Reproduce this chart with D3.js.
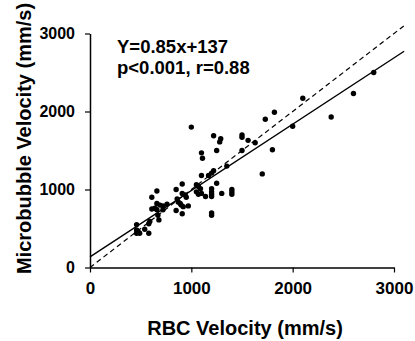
<!DOCTYPE html>
<html>
<head>
<meta charset="utf-8">
<script src="https://cdn.jsdelivr.net/npm/d3@7"></script>
<style>
  body { margin: 0; background: #fff; }
  svg { display: block; font-family: "Liberation Sans", Arial, sans-serif; font-weight: bold; }
</style>
</head>
<body>
<div id="chart"></div>
<script>
// RBC velocity (x) and microbubble velocity (y), mm/s
const rbcVelocity = [
  2800, 2600, 2100, 2380, 2000, 1820, 1730, 1800, 1700, 1630,
  1560, 1500, 1500, 1500, 1350, 1290, 1280, 1220, 1250, 1250,
  1220, 1200, 1170, 1100, 1100, 1110, 1000, 1400, 1400, 1400,
  1300, 1200, 1200, 1200, 1200, 1200, 1200, 1140, 1050, 1070,
  1090, 1050, 1070, 1100, 910, 850, 910, 940, 950, 860,
  870, 890, 900, 920, 970, 850, 910, 660, 610, 660,
  690, 720, 760, 610, 640, 660, 720, 670, 680, 590,
  580, 540, 580, 460, 460, 480, 490, 460
];
const mbVelocity = [
  2500, 2230, 2170, 1930, 1810, 1990, 1900, 1510, 1200, 1600,
  1630, 1700, 1670, 1500, 1300, 1650, 1610, 1690, 1500, 1080,
  1240, 1210, 1180, 1180, 1470, 1400, 1800, 1000, 970, 940,
  950, 1010, 970, 940, 910, 700, 670, 910, 1060, 1040,
  1010, 970, 940, 950, 1070, 1000, 950, 930, 900, 880,
  840, 820, 800, 780, 790, 730, 690, 980, 900, 820,
  800, 790, 810, 750, 760, 740, 740, 670, 610, 590,
  560, 490, 440, 550, 480, 450, 440, 440
];
const xTicks = [0, 1000, 2000, 3000];
const yTicks = [0, 1000, 2000, 3000];
const slope = 0.85, intercept = 137;
const lineRange = [0, 3100];
const statsText = ["Y=0.85x+137", "p<0.001, r=0.88"];

const W = 415, H = 341;
const margin = { top: 33.5, right: 21, bottom: 73.5, left: 90 };

const svg = d3.select("#chart").append("svg")
  .attr("width", W).attr("height", H);

const x = d3.scaleLinear().domain([0, 3000]).range([margin.left, W - margin.right]);
const y = d3.scaleLinear().domain([0, 3000]).range([H - margin.bottom, margin.top]);

// axes
const xAxis = svg.append("g")
  .attr("transform", `translate(0,${y(0)})`)
  .call(d3.axisBottom(x).tickValues(xTicks).tickFormat(d3.format("d"))
    .tickSize(5).tickSizeOuter(0).tickPadding(9));
const yAxis = svg.append("g")
  .attr("transform", `translate(${x(0)},0)`)
  .call(d3.axisLeft(y).tickValues(yTicks).tickFormat(d3.format("d"))
    .tickSize(5).tickSizeOuter(0).tickPadding(10));

[xAxis, yAxis].forEach(g => {
  g.select(".domain").attr("stroke", "#000").attr("stroke-width", 1.5);
  g.selectAll(".tick line").attr("stroke", "#000").attr("stroke-width", 1.2);
  g.selectAll(".tick text")
    .attr("fill", "#000")
    .style("font-family", "'Liberation Sans', Arial, sans-serif")
    .style("font-weight", "bold");
});
xAxis.selectAll(".tick text").style("font-size", "17px");
yAxis.selectAll(".tick text").style("font-size", "16px");

// identity line (dashed) and regression line (solid)
const line = d3.line().x(d => x(d[0])).y(d => y(d[1]));
svg.append("path")
  .attr("d", line(lineRange.map(v => [v, v])))
  .attr("fill", "none").attr("stroke", "#000")
  .attr("stroke-width", 1.2).attr("stroke-dasharray", "5,3.5");
svg.append("path")
  .attr("d", line(lineRange.map(v => [v, slope * v + intercept])))
  .attr("fill", "none").attr("stroke", "#000").attr("stroke-width", 1.4);

// points
svg.append("g").selectAll("circle")
  .data(rbcVelocity.map((v, i) => [v, mbVelocity[i]]))
  .join("circle")
  .attr("cx", d => x(d[0]))
  .attr("cy", d => y(d[1]))
  .attr("r", 2.7)
  .attr("fill", "#000");

// stats annotation
svg.append("g").selectAll("text")
  .data(statsText)
  .join("text")
  .attr("x", 117)
  .attr("y", (d, i) => 53 + i * 21)
  .style("font-size", "18.5px")
  .text(d => d);

// axis titles
svg.append("text")
  .attr("x", (x(0) + x(3000)) / 2 + 3)
  .attr("y", 335)
  .attr("text-anchor", "middle")
  .style("font-size", "20px")
  .text("RBC Velocity (mm/s)");

svg.append("text")
  .attr("transform", `translate(31,${(y(0) + y(3000)) / 2 - 12}) rotate(-90)`)
  .attr("text-anchor", "middle")
  .style("font-size", "20px")
  .text("Microbubble Velocity (mm/s)");
</script>
</body>
</html>
